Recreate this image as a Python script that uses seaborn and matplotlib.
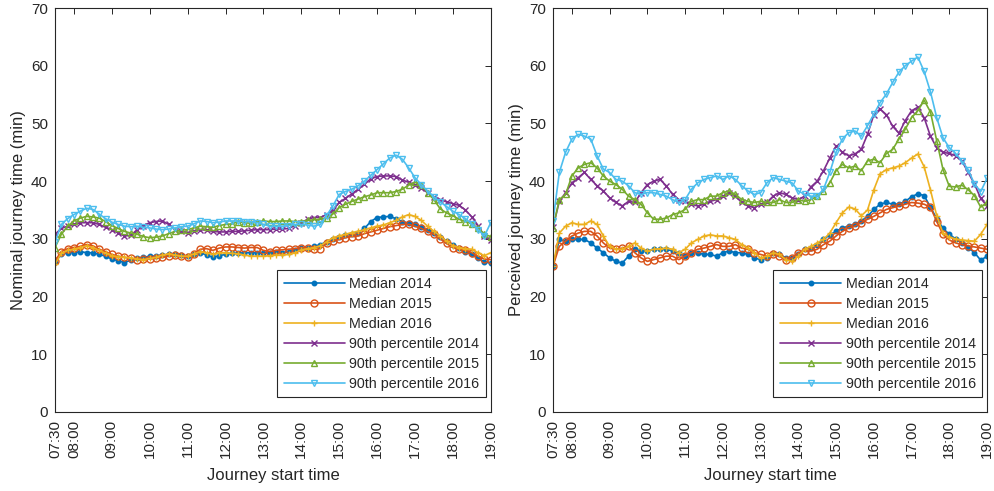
import numpy as np
import pandas as pd
import matplotlib
matplotlib.use("Agg")
import matplotlib.pyplot as plt
import seaborn as sns

# journey start times, every 10 minutes from 07:30 to 19:00 (in hours)
hours = 7.5 + np.arange(70) / 6

# left panel: nominal journey time (min)
nominal_median_2014 = [26, 27.3, 27.6, 27.6, 27.8, 27.6, 27.6, 27.3, 27, 26.5,
                       26.2, 25.9, 26.3, 26.6, 26.8, 27, 27, 27.2, 27.3, 27.3,
                       27.2, 27, 27.3, 27.6, 27.2, 26.8, 27.1, 27.3, 27.5, 27.5,
                       27.6, 27.6, 27.6, 27.5, 27.6, 27.8, 27.6, 27.8, 28.1, 28.4,
                       28.5, 28.7, 29, 29.5, 30, 30.3, 30.6, 30.9, 31.1, 31.8,
                       33, 33.7, 33.8, 33.9, 33.5, 33, 32.7, 32.5, 32, 31.5,
                       31.1, 30.4, 29.6, 29, 28.4, 27.8, 27.3, 26.7, 26, 25.8]
nominal_median_2015 = [26.2, 27.8, 28.3, 28.5, 28.7, 29, 28.8, 28.2, 27.8, 27.3,
                       27, 26.8, 26.6, 26.4, 26.5, 26.5, 26.7, 26.8, 27, 27.2,
                       27, 26.8, 27.4, 28.2, 28.3, 28, 28.4, 28.6, 28.6, 28.5,
                       28.4, 28.5, 28.5, 28, 27.8, 28, 28.1, 28.2, 28.3, 28.5,
                       28.4, 28.2, 28.3, 29.2, 29.6, 29.9, 30.2, 30.4, 30.5, 30.9,
                       31.2, 31.5, 31.8, 32.1, 32.3, 32.5, 32.5, 32.2, 31.8, 31.3,
                       30.8, 30, 29.2, 28.5, 28.2, 28, 27.6, 27, 26.5, 26.4]
nominal_median_2016 = [25.6, 27.5, 28, 28.2, 28.5, 28.8, 28.5, 28, 27.5, 27.1,
                       26.9, 26.8, 26.7, 26.5, 26.4, 26.6, 26.8, 27.2, 27.4, 27.2,
                       27, 27, 27.4, 27.8, 27.6, 27.3, 27.6, 27.6, 27.5, 27.4,
                       27.2, 27, 27, 27, 27.1, 27.2, 27.2, 27.3, 27.6, 28.1,
                       28.3, 28.5, 28.8, 29.5, 30.2, 30.5, 30.8, 31.1, 31.3, 31.6,
                       31.9, 32.2, 32.4, 32.8, 33.2, 33.8, 34.2, 33.9, 33.2, 32.2,
                       31.3, 30.5, 29.6, 28.8, 28.5, 28.3, 28.2, 27.6, 27.1, 27.6]
nominal_p90_2014 = [30.8, 31.8, 32.2, 32.5, 32.8, 32.8, 32.8, 32.5, 32, 31.6,
                    31, 30.5, 30.6, 31.6, 32.3, 32.8, 33, 33.1, 32.5, 31.6,
                    31.3, 31.1, 31.4, 31.6, 31.5, 31.3, 31.2, 31.2, 31.3, 31.3,
                    31.4, 31.5, 31.6, 31.6, 31.6, 31.7, 31.7, 31.8, 32.3, 32.8,
                    33.4, 33.7, 33.7, 34.2, 35, 36.3, 37, 37.8, 38.6, 39.5,
                    40.4, 40.8, 40.9, 40.9, 40.8, 40.2, 39.8, 39.4, 38.8, 38,
                    37.3, 36.8, 36.4, 36.1, 35.8, 35, 33.8, 32.3, 30.5, 29.8]
nominal_p90_2015 = [28.5, 30.8, 32.2, 33.1, 33.6, 33.9, 33.8, 33.6, 33, 32.3,
                    31.8, 31.3, 31, 30.8, 30.4, 30.2, 30.3, 30.5, 30.9, 31.3,
                    31.5, 31.6, 31.9, 32.2, 32.1, 32, 32.3, 32.5, 32.6, 33,
                    32.8, 32.7, 32.9, 33.1, 33, 33, 33.1, 33.1, 33, 33,
                    33.2, 33.3, 33.4, 33.7, 34.3, 35.4, 36, 36.5, 36.9, 37.3,
                    37.6, 38, 38, 38, 38.2, 38.6, 39.3, 39.8, 39.3, 38,
                    36.8, 35.2, 34.5, 34, 33.4, 33, 32.6, 31.8, 30.8, 30.4]
nominal_p90_2016 = [29.4, 32.5, 33.5, 34.2, 34.8, 35.3, 35.1, 34.3, 33.5, 32.9,
                    32.5, 32.2, 32.1, 32.2, 32, 31.9, 31.7, 31.6, 31.7, 31.9,
                    32.1, 32.2, 32.6, 33.1, 33, 32.8, 32.9, 33.1, 33.1, 33.1,
                    33, 33, 32.8, 32.5, 32.2, 32.2, 32.2, 32.3, 32.5, 32.5,
                    32.4, 32.2, 32.5, 34, 35.7, 37.7, 38.2, 38.6, 39.2, 40,
                    41, 42, 43, 44, 44.5, 43.8, 42.3, 40.6, 39.4, 38.3,
                    37.3, 36.4, 35.6, 34.8, 34.2, 33.5, 32.6, 31.6, 30.5, 32.8]

# right panel: perceived journey time (min)
perceived_median_2014 = [25.3, 29.9, 29.6, 29.9, 29.9, 29.9, 29.3, 28.4, 27.6, 26.7,
                         26.1, 25.8, 27, 28.2, 27.9, 27.9, 28.2, 28.2, 28.2, 27.9,
                         27.6, 27, 27.6, 27.6, 27.3, 27.3, 27, 27.6, 27.9, 27.6,
                         27.6, 27.3, 26.7, 26.4, 26.7, 27.6, 27.3, 26.7, 26.7, 27.3,
                         28.2, 28.4, 29, 29.9, 30.7, 31.3, 31.9, 32.2, 32.5, 33.1,
                         33.9, 35.1, 36, 36.3, 36, 36, 36.5, 37.3, 37.8, 37.5,
                         35.5, 33.5, 31.8, 30.8, 30, 29.3, 28.5, 27.6, 26.3, 27]
perceived_median_2015 = [25.3, 28.7, 29.6, 30.5, 31, 31.3, 31.3, 30.5, 29.3, 28.4,
                         28.2, 28.4, 28.7, 27.6, 26.7, 26.1, 26.4, 26.7, 27, 27,
                         26.4, 27, 27.6, 28.2, 28.4, 28.7, 29, 28.7, 28.7, 29,
                         28.4, 28.2, 27.6, 27.3, 27, 27.3, 27, 26.4, 26.7, 27.6,
                         27.9, 27.9, 28.2, 29, 29.6, 30.5, 31.3, 31.9, 32.2, 32.8,
                         33.4, 33.9, 34.5, 35.1, 35.4, 35.7, 36, 36.3, 36.2, 36,
                         35.5, 33, 30.8, 29.8, 29.3, 29, 28.8, 28.6, 28.4, 28.2]
perceived_median_2016 = [25.3, 31, 32.2, 32.8, 32.5, 32.5, 33.1, 32.5, 30.5, 28.7,
                         28.2, 28.2, 28.7, 29.3, 28.4, 27.9, 28.2, 28.3, 28.4, 28.2,
                         27.6, 28.2, 29.3, 29.9, 30.5, 30.7, 30.5, 30.5, 30.2, 29.9,
                         29, 28.4, 27.6, 26.7, 27, 27.6, 27.3, 26.4, 26.1, 27,
                         28.2, 28.7, 29.3, 29.9, 31, 32.8, 34.5, 35.5, 35.2, 34,
                         35, 38.5, 41.3, 42, 42.3, 42.6, 43.2, 44, 44.7, 42.5,
                         38.5, 34, 31, 30.3, 30, 29.8, 29.7, 29.6, 30.8, 32.5]
perceived_p90_2014 = [32, 36.5, 38, 39.7, 40.6, 41.5, 40.3, 39.2, 38.3, 37.1,
                      36.3, 35.7, 36.5, 36.3, 38, 39.4, 40, 40.3, 39.2, 37.7,
                      36.8, 36.5, 36, 35.7, 36, 36.5, 36.8, 37.4, 38, 37.4,
                      36.3, 35.7, 35.4, 36, 36.3, 37.4, 38, 37.7, 37.1, 36.8,
                      37.4, 39, 40, 41.8, 44, 46.1, 45, 44.4, 44.7, 45.5,
                      48.1, 51.5, 52.5, 51.5, 49.5, 48.3, 50.5, 52.2, 52.8, 51,
                      47.8, 45.8, 45, 44.8, 44.4, 43.5, 41.5, 39.5, 37, 35.7]
perceived_p90_2015 = [31.9, 36.8, 37.7, 40.9, 42.3, 42.9, 43.2, 42.3, 40.9, 40,
                      39.4, 38.6, 37.4, 36.8, 36, 34.5, 33.4, 33.4, 33.6, 34.2,
                      34.5, 35.1, 36.5, 36.8, 36.8, 37.4, 37.4, 38, 38.3, 37.7,
                      36.8, 36.5, 36.3, 36.5, 36.3, 36.3, 36.8, 36.3, 36.3, 36.8,
                      36.5, 36.8, 37.4, 38.3, 39.7, 41.8, 42.9, 42.3, 42.6, 41.8,
                      43.5, 43.8, 43.2, 44.8, 45.5, 47.3, 49, 51, 52.2, 54,
                      52, 47, 42, 39.1, 39, 39.3, 38.5, 37.5, 35.5, 36.3]
perceived_p90_2016 = [33.1, 41.5, 45, 47.3, 48.1, 47.8, 47.3, 44.4, 42.1, 41.5,
                      40.3, 40, 39.2, 38, 37.7, 38, 38, 37.7, 37.4, 36.8,
                      36.3, 36.8, 38.6, 39.7, 40.3, 40.6, 40.9, 40.3, 40.9, 40.3,
                      39.2, 38.3, 37.7, 38, 39.7, 40.6, 40.3, 40, 39.7, 38.3,
                      37.7, 37.4, 37.4, 38.6, 41.5, 45, 47.3, 48.4, 48.7, 47.8,
                      49.6, 51.6, 53.6, 55.1, 57.1, 58.9, 60, 60.8, 61.5, 59,
                      55.5, 51, 47.5, 45.8, 44.8, 43.5, 42, 39.5, 38.2, 40.5]

series_names = ["Median 2014", "Median 2015", "Median 2016",
                "90th percentile 2014", "90th percentile 2015", "90th percentile 2016"]
colors = ["#0072BD", "#D95319", "#EDB120", "#7E2F8E", "#77AC30", "#4DBEEE"]
markers = [".", "o", "+", "x", "^", "v"]

tick_hours = [7.5, 8, 9, 10, 11, 12, 13, 14, 15, 16, 17, 18, 19]
tick_labels = ["07:30", "08:00", "09:00", "10:00", "11:00", "12:00", "13:00",
               "14:00", "15:00", "16:00", "17:00", "18:00", "19:00"]

nominal = pd.DataFrame(dict(zip(series_names, [
    nominal_median_2014, nominal_median_2015, nominal_median_2016,
    nominal_p90_2014, nominal_p90_2015, nominal_p90_2016])))
nominal["hour"] = hours
perceived = pd.DataFrame(dict(zip(series_names, [
    perceived_median_2014, perceived_median_2015, perceived_median_2016,
    perceived_p90_2014, perceived_p90_2015, perceived_p90_2016])))
perceived["hour"] = hours

sns.set_style("white")
plt.rcParams["font.family"] = ["Liberation Sans", "DejaVu Sans"]
ink = "#262626"


def draw_panel(ax, df, ylabel):
    for name, c, m in zip(series_names, colors, markers):
        ms = 6.5 if m == "." else 5
        mfc = c if m == "." else "none"
        sns.lineplot(data=df, x="hour", y=name, ax=ax, color=c, marker=m,
                     markersize=ms, mfc=mfc, mec=c, mew=1.0, linewidth=1.2,
                     label=name)
    ax.set_xlim(7.5, 19)
    ax.set_ylim(0, 70)
    ax.set_xticks(tick_hours)
    ax.set_xticklabels(tick_labels, rotation=90)
    ax.set_yticks(range(0, 71, 10))
    ax.tick_params(direction="in", top=True, right=True, length=4,
                   width=0.7, colors=ink, labelsize=11)
    ax.tick_params(axis="x", pad=6)
    ax.tick_params(axis="y", pad=5)
    for s in ax.spines.values():
        s.set_color(ink)
        s.set_linewidth(0.8)
        s.set_visible(True)
    ax.set_xlabel("Journey start time", fontsize=12, color=ink, labelpad=7)
    ax.set_ylabel(ylabel, fontsize=12, color=ink, labelpad=4)
    leg = ax.legend(loc="lower right", bbox_to_anchor=(0.989, 0.037),
                    borderaxespad=0, fontsize=10.3, handlelength=4.3,
                    labelspacing=0.42, borderpad=0.45, handletextpad=0.3,
                    fancybox=False, framealpha=1, edgecolor=ink)
    leg.get_frame().set_linewidth(0.8)


fig = plt.figure(figsize=(9.95, 4.91), dpi=100)
ax1 = fig.add_axes([0.0553, 0.1609, 0.4379, 0.8228])
ax2 = fig.add_axes([0.5558, 0.1609, 0.4362, 0.8228])
draw_panel(ax1, nominal, "Nominal journey time (min)")
draw_panel(ax2, perceived, "Perceived journey time (min)")

fig.savefig("out.png", dpi=100)
